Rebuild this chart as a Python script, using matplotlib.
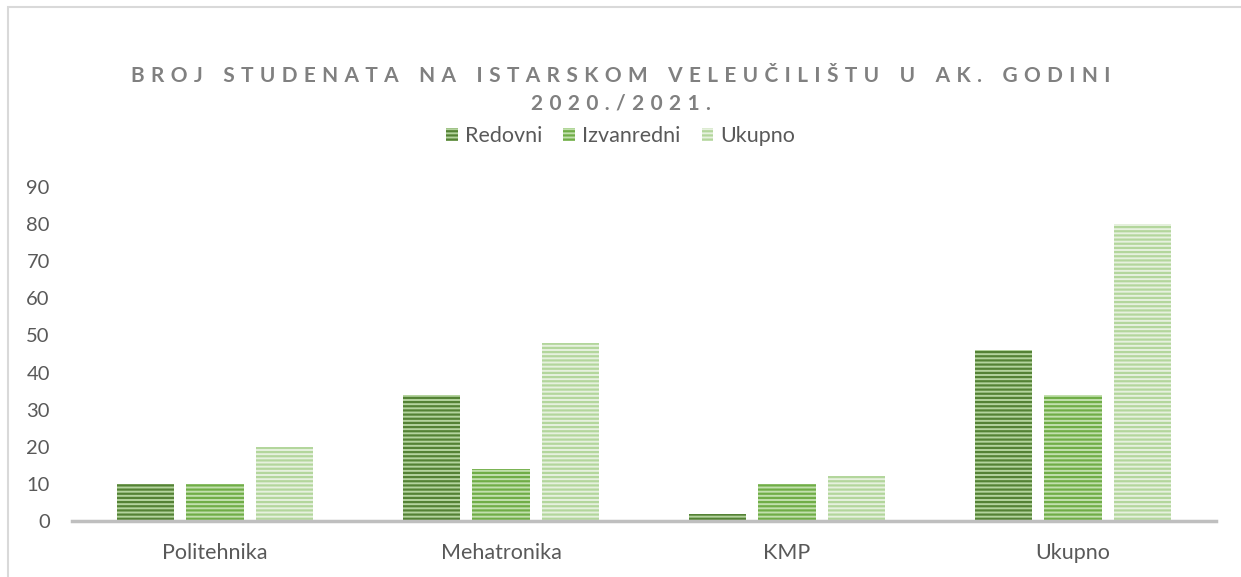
import numpy as np
import matplotlib.pyplot as plt
from matplotlib.patches import Patch, Rectangle

plt.rcParams['font.family'] = ['Lato', 'DejaVu Sans']
plt.rcParams['hatch.linewidth'] = 1.6

kategorije = ['Politehnika', 'Mehatronika', 'KMP', 'Ukupno']
redovni = [10, 34, 2, 46]
izvanredni = [10, 14, 10, 34]
ukupno = [20, 48, 12, 80]
serije = ['Redovni', 'Izvanredni', 'Ukupno']

# (pruge, pozadina)
boje = [('#548235', '#b4d49e'), ('#70ad47', '#c2e0ad'), ('#b3d69c', '#e6f1de')]

fig = plt.figure(figsize=(12.41, 5.77), dpi=100)
ax = fig.add_axes([72 / 1241, 1 - 521 / 577, (1216 - 72) / 1241, (521 - 187) / 577])

x = np.arange(len(kategorije))
sirina = 0.2
razmak = 0.243
for i, (vrijednosti, (pruga, pozadina)) in enumerate(zip([redovni, izvanredni, ukupno], boje)):
    ax.bar(x + (i - 1) * razmak, vrijednosti, sirina, color=pozadina,
           edgecolor=pruga, hatch='----', linewidth=0, zorder=2)

ax.set_xlim(-0.5, len(kategorije) - 0.5)
ax.set_ylim(0, 90)
ax.set_yticks(range(0, 91, 10))
ax.set_xticks(x)
ax.set_xticklabels(kategorije)
ax.tick_params(axis='y', length=0, pad=16, labelsize=14.5, labelcolor='#595959')
ax.tick_params(axis='x', length=0, pad=16, labelsize=15.5, labelcolor='#595959')
for s in ['top', 'right', 'left']:
    ax.spines[s].set_visible(False)
ax.spines['bottom'].set_color('#bfbfbf')
ax.spines['bottom'].set_linewidth(2.5)
ax.spines['bottom'].set_zorder(3)

def razmakni(tekst):
    return '    '.join(' \u200a'.join(rijec) for rijec in tekst.split(' '))

fig.text(0.5, 1 - 76 / 577, razmakni('BROJ STUDENATA NA ISTARSKOM VELEUČILIŠTU U AK. GODINI'),
         ha='center', va='center', fontsize=15, fontweight='bold', color='#808080')
fig.text(0.5, 1 - 104 / 577, razmakni('2020./2021.'),
         ha='center', va='center', fontsize=15, fontweight='bold', color='#808080')

rucke = [Patch(facecolor=p, edgecolor=c, hatch='----', linewidth=0) for c, p in boje]
fig.legend(rucke, serije, loc='center', bbox_to_anchor=(0.5, 1 - 136 / 577), ncol=3,
           frameon=False, fontsize=15.5, labelcolor='#595959', handlelength=0.55,
           handleheight=0.55, handletextpad=0.3, columnspacing=1.0)

fig.patches.append(Rectangle((8 / 1241, -0.1), 2, 1.1 - 7 / 577,
                             transform=fig.transFigure, fill=False,
                             edgecolor='#d9d9d9', linewidth=1.5))

fig.savefig('out.png', dpi=100)
